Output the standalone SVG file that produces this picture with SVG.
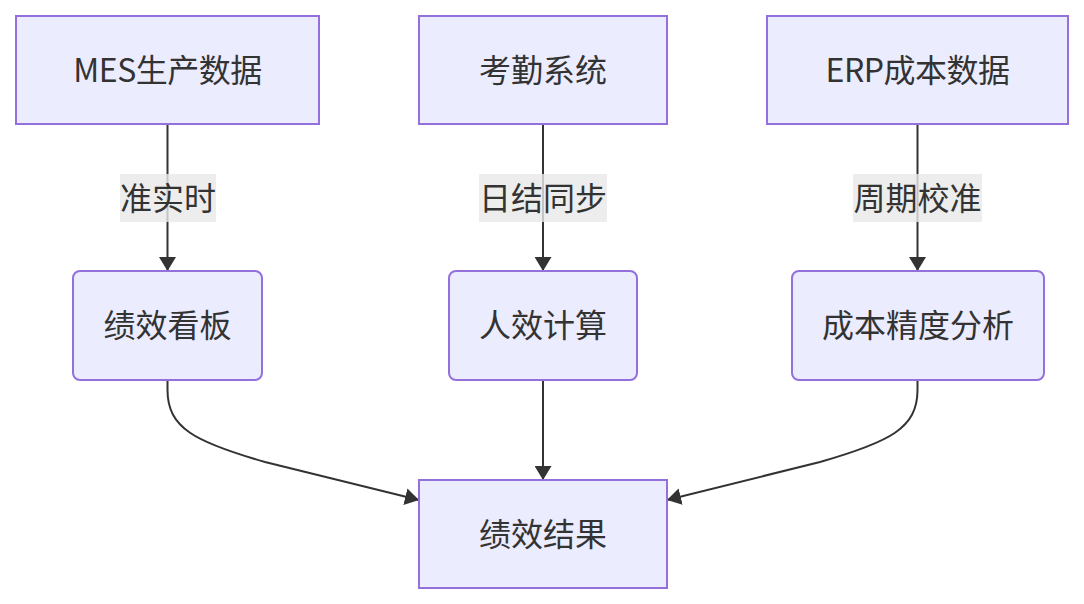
<svg xmlns="http://www.w3.org/2000/svg" width="1084" height="604" viewBox="0 0 1084 604">
<defs>
<marker id="arr" viewBox="0 0 10 10" refX="10" refY="5" markerWidth="14" markerHeight="17" markerUnits="userSpaceOnUse" orient="auto" preserveAspectRatio="none">
<path d="M0,0 L10,5 L0,10 z" fill="#333"/>
</marker>
</defs>
<style>
.n{fill:#ECECFF;stroke:#9370DB;stroke-width:2}
.t{font-family:"Noto Sans CJK SC","Noto Sans",sans-serif;font-size:32px;fill:#333;text-anchor:middle;dominant-baseline:central}
.e{fill:none;stroke:#333;stroke-width:2;marker-end:url(#arr)}
.lb{fill:rgba(232,232,232,0.8)}
</style>
<rect width="1084" height="604" fill="#fff"/>
<g id="edges">
<path class="e" d="M167.5,124 V271"/>
<path class="e" d="M543,124 V271"/>
<path class="e" d="M917.5,124 V271"/>
<path class="e" d="M167.5,380 V390 C167.5,428 195,442 265,462 L419,500"/>
<path class="e" d="M543,380 V480"/>
<path class="e" d="M917.5,380 V390 C917.5,428 890,442 820,462 L667,500"/>
</g>
<g id="edge-labels">
<g id="l1"><rect class="lb" x="120" y="174" width="96" height="48"/><text class="t" x="168" y="196">准实时</text></g>
<g id="l2"><rect class="lb" x="479" y="174" width="128" height="48"/><text class="t" x="543" y="196">日结同步</text></g>
<g id="l3"><rect class="lb" x="853" y="174" width="129" height="48"/><text class="t" x="917.5" y="196">周期校准</text></g>
</g>
<g id="mes"><rect class="n" x="16" y="16" width="303" height="108"/><text class="t" x="167.5" y="68" letter-spacing="-0.5">MES生产数据</text></g>
<g id="kq"><rect class="n" x="419" y="16" width="248" height="108"/><text class="t" x="543" y="68">考勤系统</text></g>
<g id="erp"><rect class="n" x="767" y="16" width="301" height="108"/><text class="t" x="917.5" y="68" letter-spacing="-0.5">ERP成本数据</text></g>
<g id="jxkb"><rect class="n" x="73" y="271" width="189" height="109" rx="7"/><text class="t" x="167.5" y="323">绩效看板</text></g>
<g id="rxjs"><rect class="n" x="449" y="271" width="188" height="109" rx="7"/><text class="t" x="543" y="323">人效计算</text></g>
<g id="cbjd"><rect class="n" x="792" y="271" width="252" height="109" rx="7"/><text class="t" x="918" y="323">成本精度分析</text></g>
<g id="jxjg"><rect class="n" x="419" y="480" width="248" height="108"/><text class="t" x="543" y="532">绩效结果</text></g>
</svg>
